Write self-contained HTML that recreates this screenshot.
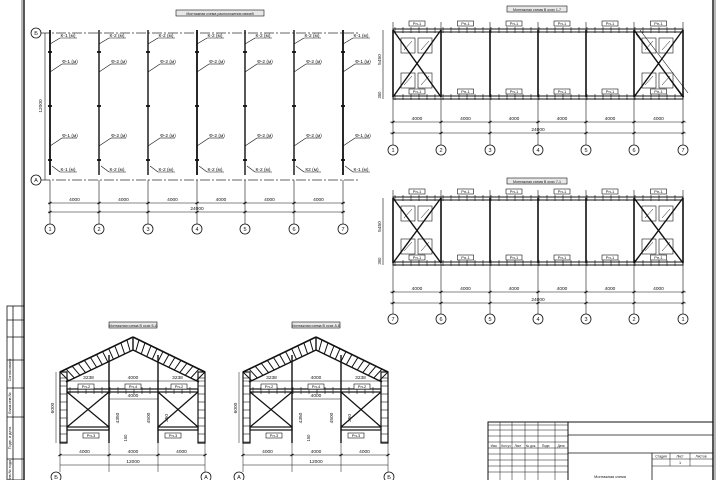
<!DOCTYPE html>
<html><head><meta charset="utf-8"><style>
html,body{margin:0;padding:0;background:#fff;width:720px;height:480px;overflow:hidden}
svg{display:block;font-family:"Liberation Sans","DejaVu Sans",sans-serif}
</style></head><body>
<svg id="s" width="720" height="480" viewBox="0 0 720 480" xmlns="http://www.w3.org/2000/svg"></svg>
<script>
(function(){
const S=document.getElementById('s');let o='';
function L(x1,y1,x2,y2,w,c,d){o+=`<line x1="${x1}" y1="${y1}" x2="${x2}" y2="${y2}" stroke="${c||'#111'}" stroke-width="${w||0.8}"${d?` stroke-dasharray="${d}"`:''}/>`;}
function R(x,y,w,h,sw,f){o+=`<rect x="${x}" y="${y}" width="${w}" height="${h}" fill="${f||'none'}" stroke="#111" stroke-width="${sw||0.8}"/>`;}
function C(x,y,r,t){o+=`<circle cx="${x}" cy="${y}" r="${r}" fill="#fff" stroke="#111" stroke-width="0.8"/><text x="${x}" y="${y+2}" font-size="5.5" text-anchor="middle" fill="#111">${t}</text>`;}
function T(x,y,t,s,a,rot){o+=`<text x="${x}" y="${y}" font-size="${s||5}" fill="#111" text-anchor="${a||'middle'}"${rot?` transform="rotate(-90 ${x} ${y})"`:''}>${t}</text>`;}
function title(x,y,t,w){R(x-w/2,y-4,w,6,0.6,'#e8e8e8');T(x,y+1,t,3.6);}
L(24,0,24,480,1.4);L(22,0,22,480,0.6);L(713,0,713,480,1.4);L(715,0,715,480,0.6);
R(7,306,17,174,0.8);L(13,306,13,480);[320,337,360,388,417,459].forEach(y=>L(7,y,24,y));
T(11,370,'Согласовано',3.8,'middle',1);T(11,403,'Взам.инв.№',3.8,'middle',1);T(11,438,'Подп. и дата',3.8,'middle',1);T(11,470,'Инв.№ подл.',3.8,'middle',1);
title(220,14,'Монтажная схема расположения связей',88);
const X1=[50,99,148,197,245,294,343];
L(40,33,358,33,0.8,'#333','10 2 2 2');L(40,180,358,180,0.8,'#333','10 2 2 2');
C(36,33,5,'Б');C(36,180,5,'А');
L(45,33,45,180,0.6);T(42,106,'12000',4.8,'middle',1);
const topL=['К-1 (м)','К-2 (м)','К-2 (м)','К-2 (м)','К-2 (м)','К-2 (м)','К-1 (м)'],botL=['К-1 (м)','К-2 (м)','К-2 (м)','К-2 (м)','К-2 (м)','К2 (м)','К-1 (м)'];
X1.forEach((x,i)=>{L(x,30,x,175,(i==0||i==6||i==3)?1.8:1.4);
[52,106,160].forEach(y=>L(x-2,y,x+2,y,1.8));
L(x,44,x+10,38,0.6);L(x+10,38,x+27,38,0.6);T(x+18,37,topL[i],4.8);
const f=(i==0||i==6)?'Ф-1 (м)':'Ф-2 (м)';
L(x,72,x+12,64,0.6);L(x+12,64,x+27,64,0.6);T(x+20,63,f,4.8);
L(x,146,x+12,138,0.6);L(x+12,138,x+27,138,0.6);T(x+20,137,f,4.8);
L(x+2,166,x+10,172,0.6);L(x+10,172,x+27,172,0.6);T(x+18,171,botL[i],4.8);
L(x,180,x,224,0.6);C(x,229,5,i+1);L(x-1.5,204,x+1.5,202,1.2);L(x-1.5,213,x+1.5,211,1.2);});
L(48,203,345,203,0.6);L(48,212,345,212,0.6);
for(let i=0;i<6;i++)T((X1[i]+X1[i+1])/2,201,'4000',4.8);T(197,210,'24000',4.8);
function plan(yt,yb,yd,yc,nums,ttl,tx,ty,band){title(tx,ty,ttl,60);
const X=[393,441,490,538,586,634,683];
R(393,yt-1,290,3,1);R(393,yb-1,290,3,1);
for(let x=395;x<683;x+=8){L(x,yt-3,x,yt+3,0.6);L(x,yb-3,x,yb+3,0.6);}
X.forEach((x,i)=>{L(x,yt-8,x,yc-5,0.6);L(x,yt,x,yb,1.6);L(x-1.5,yd+1,x+1.5,yd-1,1.2);L(x-1.5,yd+12,x+1.5,yd+10,1.2);C(x,yc,5,nums[i]);});
for(let i=0;i<6;i++){const m=(X[i]+X[i+1])/2;R(m-8,yt-9,16,5,0.6,'#fff');T(m,yt-5,'Рп-1',4);R(m-8,yb-8,16,5,0.6,'#fff');T(m,yb-4,'Рп-1',4);T(m,yd-2,'4000',4.8);}
T(538,yd+9,'24000',4.8);L(390,yd,686,yd,0.6);L(390,yd+11,686,yd+11,0.6);
[[393,441],[634,683]].forEach(([a,b])=>{L(a,yt,b,yb,1.4);L(a,yb,b,yt,1.4);
[[a+8,yt+8],[a+25,yt+8],[a+8,yb-24],[a+25,yb-24]].forEach(([x,y])=>{R(x,y,14,15,0.6);L(x+3,y+12,x+11,y+3,0.5);});});
if(band){L(640,yt,688,yb-4,0.6);L(636,yt+4,684,yb,0.6);}
L(383,yt,383,yb+2,0.6);T(381,(yt+yb)/2-4,'5450',4.8,'middle',1);T(381,yb-2,'350',4.2,'middle',1);}
plan(30,97,122,150,[1,2,3,4,5,6,7],'Монтажная схема В осях 1-7',537,10,1);
plan(198,263,292,319,[7,6,5,4,3,2,1],'Монтажная схема В осях 7-1',537,182,0);
function elev(dx,ttl,l,r){const x0=60+dx,x1=205+dx,xm=133+dx,p1=109+dx,p2=158+dx;
title(xm,326,ttl,48);
L(x0,372,xm,337,1.6);L(xm,337,x1,372,1.6);L(x0+6,382,xm,350,1.4);L(xm,350,x1-6,382,1.4);
for(let k=0;k<12;k++){const t=k/12,t2=(k+0.5)/12;
const ax=x0+(xm-x0)*t,ay=372-35*t,bx=x0+6+(xm-x0-6)*t2,by=382-32*t2;L(ax,ay,bx,by,1);
const cx=x1-(x1-xm)*t,cy=372-35*t,ex=x1-6-(x1-6-xm)*t2,ey=382-32*t2;L(cx,cy,ex,ey,1);}
L(xm,337,xm,350,1.4);
R(x0,372,7,71,1.2);R(x1-7,372,7,71,1.2);for(let y=378;y<443;y+=8){L(x0,y,x0+7,y,0.6);L(x1-7,y,x1,y,0.6);}
L(p1,355,p1,443,1.4);L(p2,355,p2,443,1.4);
R(x0+7,389,x1-x0-14,3,1.2);for(let x=x0+10;x<x1-7;x+=8)L(x,387,x,394,0.6);
R(x0+7,427,p1-x0-7,3,1.2);R(p2,427,x1-7-p2,3,1.2);
L(x0+7,392,p1,427,1.2);L(p1,392,x0+7,427,1.2);L(p2,392,x1-7,427,1.2);L(x1-7,392,p2,427,1.2);
R(x0+18,384,16,5,0.6,'#fff');T(x0+26,388,'Рп-2',4);R(xm-8,384,16,5,0.6,'#fff');T(xm,388,'Рп-4',4);R(x1-34,384,16,5,0.6,'#fff');T(x1-26,388,'Рп-2',4);
R(x0+23,433,16,5,0.6,'#fff');T(x0+31,437,'Рп-3',4);R(x1-40,433,16,5,0.6,'#fff');T(x1-32,437,'Рп-3',4);
L(x0,381,x1,381,0.5);T((x0+p1)/2+4,379,'3238',4.8);T(xm,379,'4000',4.8);T((p2+x1)/2-4,379,'3238',4.8);
L(p1,399,p2,399,0.5);T(xm,397,'4000',4.8);
T(p1+10,418,'4350',4.8,'middle',1);T(p2-8,418,'4500',4.8,'middle',1);T(p2+10,418,'350',4.8,'middle',1);T(p1+18,438,'150',4.2,'middle',1);
L(x0-4,372,x0-4,443,0.5);T(x0-6,408,'6000',4.8,'middle',1);
L(x0,455,x1,455,0.6);L(x0,465,x1,465,0.6);[x0,p1,p2,x1].forEach(x=>{L(x,443,x,472,0.5);L(x-1.5,456,x+1.5,454,1.2);});
T((x0+p1)/2,453,'4000',4.8);T(xm,453,'4000',4.8);T((p2+x1)/2,453,'4000',4.8);T(xm,463,'12000',4.8);
C(x0-4,477,5,l);C(x1+1,477,5,r);}
elev(0,'Монтажная схема В осях Б-А','Б','А');
elev(183,'Монтажная схема В осях А-Б','А','Б');
R(488,422,225,60,1);
[425,430,436,442,448,454,460,466,472].forEach(y=>L(488,y,568,y,0.5));
[500,512,525,538,555].forEach(x=>L(x,422,x,480,0.5));L(568,422,568,480,1);
L(568,435,713,435,0.8);L(568,453,713,453,0.8);L(652,453,652,480,0.8);L(652,459,713,459,0.5);L(652,466,713,466,0.5);L(670,453,670,466,0.5);L(690,453,690,466,0.5);
T(661,457.5,'Стадия',3.4);T(680,457.5,'Лист',3.4);T(701,457.5,'Листов',3.4);T(680,464,'1',3.8);
['Изм.','Кол.уч','Лист','№ док.','Подп.','Дата'].forEach((t,i)=>T([494,506,518,531,546,561][i],447,t,3.2));
T(610,478,'Монтажная схема',3.8);
S.innerHTML=o;
})();
</script>
</body></html>
